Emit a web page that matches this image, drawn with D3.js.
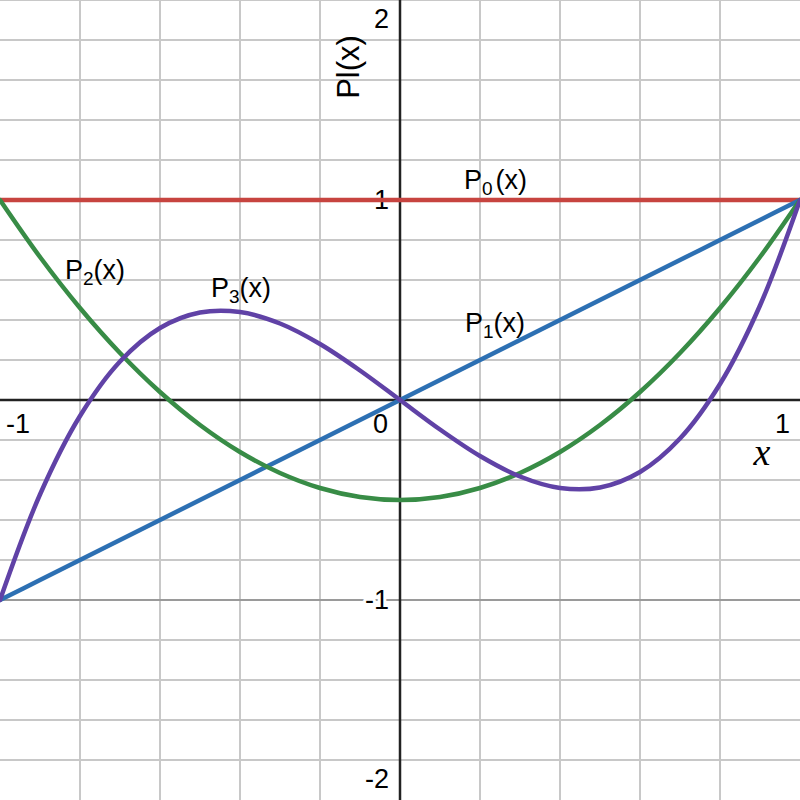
<!DOCTYPE html>
<html><head><meta charset="utf-8">
<script src="https://cdn.jsdelivr.net/npm/d3@7"></script>
<style>
html,body{margin:0;padding:0;background:#fff;}
svg{display:block;}
text{font-family:"Liberation Sans",Arial,sans-serif;fill:#000;}
</style></head>
<body>
<script>
// x sample points and Legendre polynomial values
const xs  = [-1,-0.9,-0.8,-0.7,-0.6,-0.5,-0.4,-0.3,-0.2,-0.1,0,0.1,0.2,0.3,0.4,0.5,0.6,0.7,0.8,0.9,1];
const p0  = [1,1,1,1,1,1,1,1,1,1,1,1,1,1,1,1,1,1,1,1,1];
const p1  = [-1,-0.9,-0.8,-0.7,-0.6,-0.5,-0.4,-0.3,-0.2,-0.1,0,0.1,0.2,0.3,0.4,0.5,0.6,0.7,0.8,0.9,1];
const p2  = [1,0.715,0.46,0.235,0.04,-0.125,-0.26,-0.365,-0.44,-0.485,-0.5,-0.485,-0.44,-0.365,-0.26,-0.125,0.04,0.235,0.46,0.715,1];
const p3  = [-1,-0.4725,-0.08,0.1925,0.36,0.4375,0.44,0.3825,0.28,0.1475,0,-0.1475,-0.28,-0.3825,-0.44,-0.4375,-0.36,-0.1925,0.08,0.4725,1];
const seriesNames = ["0","1","2","3"];
const seriesColors = ["#c74440","#2d70b3","#388c46","#6042a6"];
const xGrid = [-0.8,-0.6,-0.4,-0.2,0.2,0.4,0.6,0.8];
const yGrid = [-1.8,-1.6,-1.4,-1.2,-0.8,-0.6,-0.4,-0.2,0.2,0.4,0.6,0.8,1.2,1.4,1.6,1.8,2];
const yMajor = [-1,1];
const xTickLabels = [{v:-1,t:"-1"},{v:0,t:"0"},{v:1,t:"1"}];
const yTickLabels = [{v:2,t:"2"},{v:1,t:"1"},{v:-1,t:"-1"},{v:-2,t:"-2"}];

const W=800,H=800;
const x=d3.scaleLinear().domain([-1,1]).range([0,800]);
const y=d3.scaleLinear().domain([-2,2]).range([800,0]);
const svg=d3.select("body").append("svg").attr("width",W).attr("height",H);

// minor grid
svg.append("g").selectAll("line").data(xGrid).join("line")
  .attr("x1",d=>x(d)).attr("x2",d=>x(d)).attr("y1",0).attr("y2",H)
  .attr("stroke","#c8c8c8").attr("stroke-width",2);
svg.append("g").selectAll("line").data(yGrid).join("line")
  .attr("y1",d=>y(d)).attr("y2",d=>y(d)).attr("x1",0).attr("x2",W)
  .attr("stroke","#c8c8c8").attr("stroke-width",2);
svg.append("g").selectAll("line").data(yMajor).join("line")
  .attr("y1",d=>y(d)).attr("y2",d=>y(d)).attr("x1",0).attr("x2",W)
  .attr("stroke","#9a9a9a").attr("stroke-width",2);

// axes
svg.append("line").attr("x1",0).attr("x2",W).attr("y1",y(0)).attr("y2",y(0)).attr("stroke","#222").attr("stroke-width",2.5);
svg.append("line").attr("x1",x(0)).attr("x2",x(0)).attr("y1",0).attr("y2",H).attr("stroke","#222").attr("stroke-width",2.5);

// tick labels
const halo = s=>s.attr("stroke","#fff").attr("stroke-width",6).attr("paint-order","stroke").attr("stroke-linejoin","round");
svg.append("g").selectAll("text").data(xTickLabels).join("text")
  .attr("x",d=>d.v===-1?x(d.v)+6:(d.v===1?x(d.v)-10:x(d.v)-12))
  .attr("y",y(0)+33)
  .attr("text-anchor",d=>d.v===-1?"start":"end")
  .attr("font-size",27).text(d=>d.t).call(halo);
svg.append("g").selectAll("text").data(yTickLabels).join("text")
  .attr("x",x(0)-11).attr("y",d=>y(d.v)+ (d.v===2?28-y(2): d.v===-2? -12 : 9))
  .attr("text-anchor","end").attr("font-size",27).text(d=>d.t).call(halo);

// axis titles
svg.append("text").attr("x",762).attr("y",465).attr("text-anchor","middle")
  .style("font-family","'Liberation Serif','Times New Roman',serif").style("font-style","italic")
  .attr("font-size",38).text("x");
svg.append("text").attr("transform","translate(359,67) rotate(-90)").attr("text-anchor","middle")
  .attr("font-size",31).text("Pl(x)");

// curves
const all=[p0,p1,p2,p3];
const line=d3.line().x((d,i)=>x(xs[i])).y(d=>y(d)).curve(d3.curveCatmullRom.alpha(0.5));
svg.append("g").selectAll("path").data(all).join("path")
  .attr("d",d=>line(d)).attr("fill","none")
  .attr("stroke",(d,i)=>seriesColors[i]).attr("stroke-width",4.5).attr("stroke-linecap","round");

// curve labels
const labelPos = {"0":[464,189],"2":[65,279],"3":[211,297],"1":[465,332]};
seriesNames.forEach(n=>{
  const p=labelPos[n];
  const t=svg.append("text").attr("x",p[0]).attr("y",p[1]).attr("font-size",27);
  t.append("tspan").text("P");
  t.append("tspan").attr("font-size",19).attr("dy",6).text(n);
  t.append("tspan").attr("dy",-6).attr("dx",n==="0"?3:0).text("(x)");
});
</script>
</body></html>
